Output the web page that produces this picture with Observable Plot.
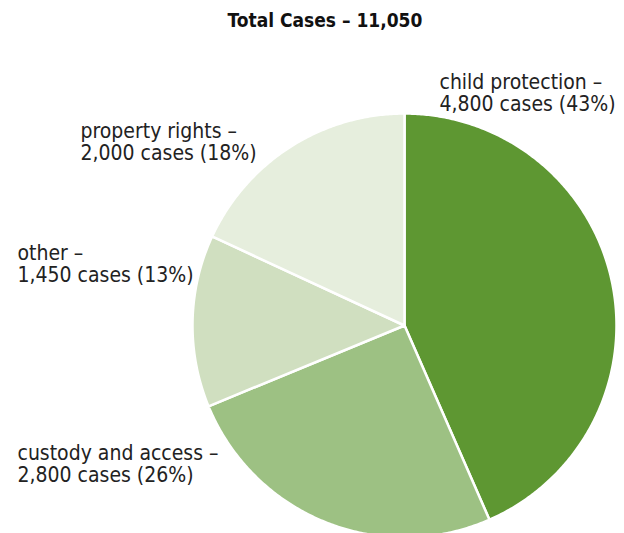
<!DOCTYPE html>
<html>
<head>
<meta charset="utf-8">
<script src="https://cdn.jsdelivr.net/npm/d3@7"></script>
<script src="https://cdn.jsdelivr.net/npm/@observablehq/plot@0.6"></script>
<style>
  html, body { margin: 0; padding: 0; background: #fff; }
  body { width: 624px; height: 533px; overflow: hidden; font-family: "DejaVu Sans Condensed", "DejaVu Sans", sans-serif; }
  #title { height: 40px; line-height: 40px; text-align: center; font-weight: bold; font-size: 19px; color: #111; padding-left: 26px; box-sizing: border-box; font-stretch: condensed; }
  #chart svg { display: block; overflow: visible; }
</style>
</head>
<body>
<div id="title">Total Cases – 11,050</div>
<div id="chart"></div>
<script>
const categories = ["child protection", "custody and access", "other", "property rights"];
const cases = [4800, 2800, 1450, 2000];
const percents = ["43%", "26%", "13%", "18%"];
const colors = ["#5e9732", "#9dc183", "#d0dfc0", "#e6eedd"];

const W = 624, H = 493;
const cx = 404, cy = 285, r = 212;

const arcs = d3.pie().sort(null).value(d => d)(cases);
const rows = [];
arcs.forEach((a, i) => {
  const cat = categories[i];
  rows.push({cat, x: cx, y: cy});
  const n = Math.max(2, Math.ceil((a.endAngle - a.startAngle) / (Math.PI / 360)));
  for (let k = 0; k <= n; k++) {
    const t = a.startAngle + (a.endAngle - a.startAngle) * k / n;
    rows.push({cat, x: cx + r * Math.sin(t), y: cy - r * Math.cos(t)});
  }
  rows.push({cat, x: cx, y: cy});
});

// label layout (anchor positions for each category's text block)
const labelPos = {
  "child protection": [439, 52],
  "custody and access": [17, 423.5],
  "other": [17, 223.5],
  "property rights": [80, 101.5]
};
const labels = categories.map((c, i) => ({
  cat: c,
  x: labelPos[c][0],
  y: labelPos[c][1],
  text: `${c} –\n${d3.format(",")(cases[i])} cases (${percents[i]})`
}));

const chart = Plot.plot({
  width: W,
  height: H,
  margin: 0,
  x: {domain: [0, W], range: [0, W], axis: null},
  y: {domain: [0, H], range: [0, H], axis: null},
  color: {domain: categories, range: colors},
  style: {fontFamily: '"DejaVu Sans Condensed", "DejaVu Sans", sans-serif', background: "#fff"},
  marks: [
    Plot.line(rows, {x: "x", y: "y", z: "cat", fill: "cat", stroke: "white", strokeWidth: 2.5, strokeLinejoin: "round"}),
    Plot.text(labels, {x: "x", y: "y", text: "text", textAnchor: "start", lineAnchor: "middle", lineHeight: 1.05, fontSize: 21, fill: "#222"})
  ]
});
document.getElementById("chart").appendChild(chart);
</script>
</body>
</html>
